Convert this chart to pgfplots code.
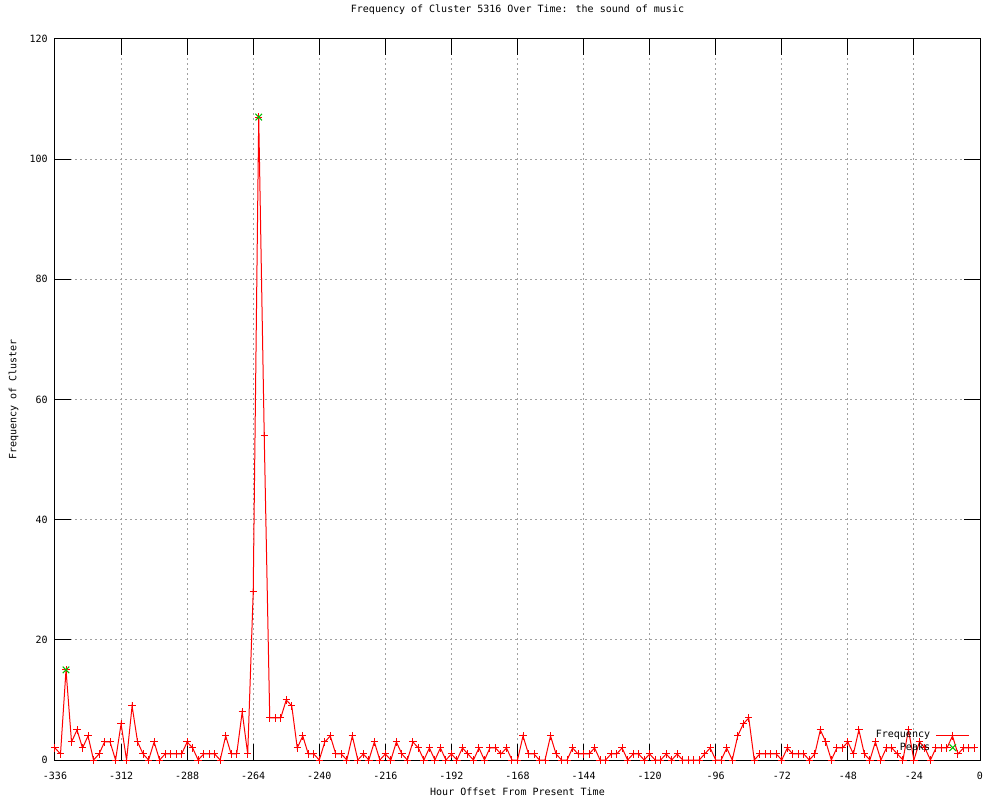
\documentclass[border=0pt]{standalone}
\usepackage{fontspec}
\setmainfont{DejaVu Sans Mono}
\usepackage{pgfplots}
\pgfplotsset{compat=1.18}
\usepackage{pgfplotstable}
\definecolor{gpred}{RGB}{255,0,0}
\definecolor{gpgreen}{RGB}{0,192,0}
\definecolor{gpgrid}{RGB}{160,160,160}

\pgfplotstableread{
x y
-336 2
-334 1
-332 15
-330 3
-328 5
-326 2
-324 4
-322 0
-320 1
-318 3
-316 3
-314 0
-312 6
-310 0
-308 9
-306 3
-304 1
-302 0
-300 3
-298 0
-296 1
-294 1
-292 1
-290 1
-288 3
-286 2
-284 0
-282 1
-280 1
-278 1
-276 0
-274 4
-272 1
-270 1
-268 8
-266 1
-264 28
-262 107
-260 54
-258 7
-256 7
-254 7
-252 10
-250 9
-248 2
-246 4
-244 1
-242 1
-240 0
-238 3
-236 4
-234 1
-232 1
-230 0
-228 4
-226 0
-224 1
-222 0
-220 3
-218 0
-216 1
-214 0
-212 3
-210 1
-208 0
-206 3
-204 2
-202 0
-200 2
-198 0
-196 2
-194 0
-192 1
-190 0
-188 2
-186 1
-184 0
-182 2
-180 0
-178 2
-176 2
-174 1
-172 2
-170 0
-168 0
-166 4
-164 1
-162 1
-160 0
-158 0
-156 4
-154 1
-152 0
-150 0
-148 2
-146 1
-144 1
-142 1
-140 2
-138 0
-136 0
-134 1
-132 1
-130 2
-128 0
-126 1
-124 1
-122 0
-120 1
-118 0
-116 0
-114 1
-112 0
-110 1
-108 0
-106 0
-104 0
-102 0
-100 1
-98 2
-96 0
-94 0
-92 2
-90 0
-88 4
-86 6
-84 7
-82 0
-80 1
-78 1
-76 1
-74 1
-72 0
-70 2
-68 1
-66 1
-64 1
-62 0
-60 1
-58 5
-56 3
-54 0
-52 2
-50 2
-48 3
-46 1
-44 5
-42 1
-40 0
-38 3
-36 0
-34 2
-32 2
-30 1
-28 0
-26 5
-24 0
-22 3
-20 2
-18 0
-16 2
-14 2
-12 2
-10 4
-8 1
-6 2
-4 2
-2 2
}\freqdata

\pgfplotstableread{
x y
-332 15
-262 107
}\peakdata

\begin{document}
\fontsize{7.5}{9}\selectfont
\begin{tikzpicture}
\useasboundingbox (-41.25pt,-30pt) rectangle (708.75pt,570pt);
\begin{axis}[
  at={(0,0)}, anchor=south west,
  scale only axis, width=693.75pt, height=540.75pt,
  xmin=-336, xmax=0, ymin=0, ymax=120,
  xtick={-336,-312,...,0}, ytick={0,20,...,120},
  scaled ticks=false,
  /pgf/number format/assume math mode=true,
  tick align=inside,
  major tick length=12pt,
  minor tick num=0,
  axis line style={black, line width=0.75pt},
  every tick/.style={black, line width=0.75pt},
  grid=major,
  major grid style={gpgrid, line width=0.75pt, dash pattern=on 1.5pt off 2.25pt},
  xticklabel style={anchor=base, inner sep=0pt, yshift=-14.25pt},
  yticklabel style={anchor=east, inner sep=0pt, xshift=-5.25pt},
  title={Frequency of Cluster 5316 Over Time: the sound of music},
  title style={at={(axis description cs:0.5,1.02497)}, anchor=base, inner sep=0pt},
  xlabel={Hour Offset From Present Time},
  xlabel style={at={(axis description cs:0.5,-0.04993)}, anchor=base, inner sep=0pt},
  ylabel={Frequency of Cluster},
  ylabel style={at={(axis description cs:-0.04162,0.5)}, anchor=base, inner sep=0pt},
  legend plot pos=right,
  legend cell align=right,
  legend style={draw=none, fill=none, at={(axis description cs:0.98919,0.02566)}, anchor=east,
    row sep=0pt, column sep=3.25pt, inner sep=0pt,
    nodes={inner sep=1pt, text height=5.5pt, text depth=1.8pt}},
  legend image code/.code={\draw[mark repeat=2,mark phase=2,#1] plot coordinates {(0pt,0pt) (12.375pt,0pt) (24.75pt,0pt)};},
]
\addplot[gpred, line width=0.75pt, mark=+, mark size=2.75pt, mark options={solid}] table[x=x,y=y] {\freqdata};
\addlegendentry{Frequency}
\addplot[gpgreen, only marks, mark=x, mark size=3.5pt, line width=0.75pt] table[x=x,y=y] {\peakdata};
\addlegendentry{Peaks}
\draw[black, line width=0.75pt] (rel axis cs:0,0) -- (rel axis cs:1,0);
\end{axis}
\end{tikzpicture}
\end{document}
